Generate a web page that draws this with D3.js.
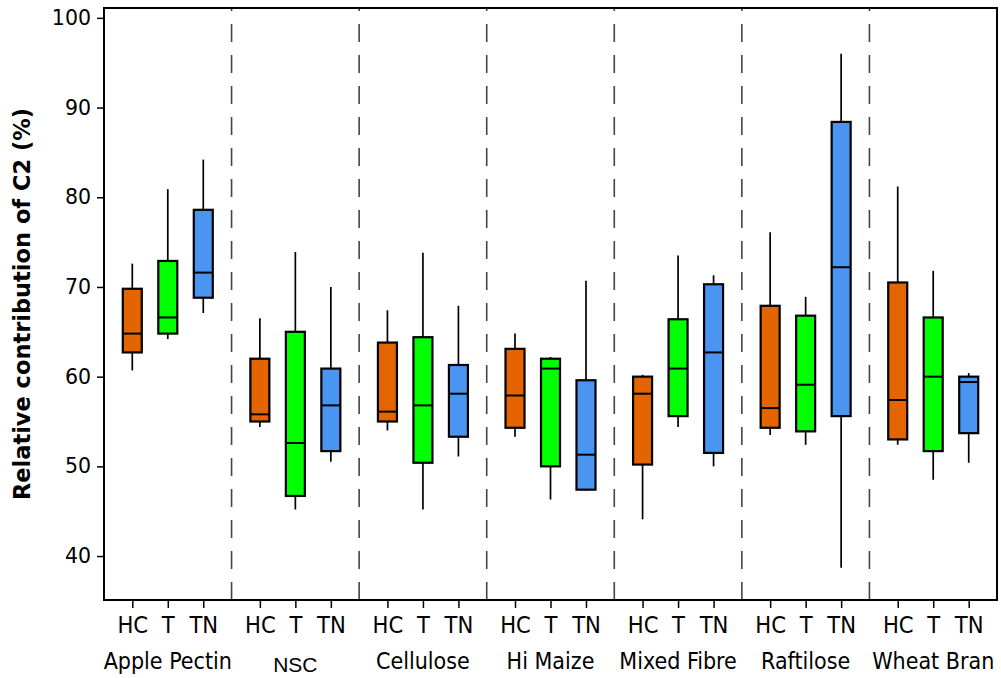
<!DOCTYPE html>
<html>
<head>
<meta charset="utf-8">
<script src="https://cdn.jsdelivr.net/npm/d3@7"></script>
<style>
  html, body { margin: 0; padding: 0; background: #fff; }
  svg { display: block; }
</style>
</head>
<body>
<svg id="chart" width="1001" height="678"></svg>
<script>
// Substrates (outer groups) and treatments (inner categories)
const groups = ["Apple Pectin", "NSC", "Cellulose", "Hi Maize", "Mixed Fibre", "Raftilose", "Wheat Bran"];
const treatments = ["HC", "T", "TN"];
const yTicks = [40, 50, 60, 70, 80, 90, 100];

// Box-plot statistics, one value per group × treatment (HC, T, TN in each group)
const whiskerLow = [60.7, 64.2, 67.1,  54.4, 45.2, 50.5,  54.0, 45.2, 51.1,  53.3, 46.3, 47.3,  44.1, 54.4, 50.0,  53.5, 52.4, 38.7,  52.4, 48.5, 50.4];
const q1         = [62.7, 64.8, 68.8,  55.0, 46.7, 51.7,  55.0, 50.4, 53.3,  54.3, 50.0, 47.4,  50.2, 55.6, 51.5,  54.3, 53.9, 55.6,  53.0, 51.7, 53.7];
const median     = [64.8, 66.6, 71.6,  55.8, 52.6, 56.8,  56.1, 56.8, 58.1,  57.9, 60.9, 51.3,  58.1, 60.9, 62.7,  56.5, 59.1, 72.2,  57.4, 60.0, 59.4];
const q3         = [69.8, 72.9, 78.6,  62.0, 65.0, 60.9,  63.8, 64.4, 61.3,  63.1, 62.0, 59.6,  60.0, 66.4, 70.3,  67.9, 66.8, 88.4,  70.5, 66.6, 60.0];
const whiskerHigh= [72.6, 80.9, 84.2,  66.5, 73.9, 70.0,  67.4, 73.8, 67.9,  64.8, 62.2, 70.7,  60.2, 73.5, 71.3,  76.1, 68.9, 96.0,  81.2, 71.8, 60.4];

const fills = { HC: "#E46400", T: "#00FF00", TN: "#4A95F2" };

const svg = d3.select("#chart");
const plotL = 104, plotR = 997, plotT = 8, plotB = 600;

const xGroup = d3.scaleBand().domain(groups).range([plotL, plotR]).padding(0);
const xTreat = d3.scalePoint().domain(treatments).range([0, xGroup.bandwidth()]).padding(0.797);
const y = d3.scaleLinear().domain([35.1, 101.1]).range([plotB, plotT]);

const boxes = [];
groups.forEach((g, gi) => treatments.forEach((t, ti) => {
  const i = gi * treatments.length + ti;
  boxes.push({ group: g, treat: t, lo: whiskerLow[i], q1: q1[i], med: median[i], q3: q3[i], hi: whiskerHigh[i] });
}));

// Dashed separators between substrate groups
svg.append("g").selectAll("line")
  .data(groups.slice(1))
  .join("line")
  .attr("x1", d => xGroup(d)).attr("x2", d => xGroup(d))
  .attr("y1", plotB).attr("y2", plotT)
  .attr("stroke", "#444").attr("stroke-width", 1.6)
  .attr("stroke-dasharray", "18,13");

// Boxes and whiskers
const boxW = 19;
const bx = d => xGroup(d.group) + xTreat(d.treat);
const gBox = svg.append("g");
gBox.selectAll("line.whisk")
  .data(boxes)
  .join("line")
  .attr("class", "whisk")
  .attr("x1", bx).attr("x2", bx)
  .attr("y1", d => y(d.lo)).attr("y2", d => y(d.hi))
  .attr("stroke", "#000").attr("stroke-width", 1.7);
gBox.selectAll("rect")
  .data(boxes)
  .join("rect")
  .attr("x", d => bx(d) - boxW / 2)
  .attr("width", boxW)
  .attr("y", d => y(d.q3))
  .attr("height", d => y(d.q1) - y(d.q3))
  .attr("fill", d => fills[d.treat])
  .attr("stroke", "#000").attr("stroke-width", 2.2);
gBox.selectAll("line.med")
  .data(boxes)
  .join("line")
  .attr("class", "med")
  .attr("x1", d => bx(d) - boxW / 2).attr("x2", d => bx(d) + boxW / 2)
  .attr("y1", d => y(d.med)).attr("y2", d => y(d.med))
  .attr("stroke", "#000").attr("stroke-width", 2);

// Frame
svg.append("rect")
  .attr("x", plotL).attr("y", plotT)
  .attr("width", plotR - plotL).attr("height", plotB - plotT)
  .attr("fill", "none").attr("stroke", "#000").attr("stroke-width", 2);

// Y axis
const yAxis = svg.append("g")
  .attr("transform", `translate(${plotL},0)`)
  .call(d3.axisLeft(y).tickValues(yTicks).tickSize(7).tickPadding(6).tickSizeOuter(0));
yAxis.select(".domain").remove();
yAxis.selectAll(".tick line").attr("stroke", "#000").attr("stroke-width", 1.5);
yAxis.selectAll(".tick text")
  .attr("font-family", "'DejaVu Sans', sans-serif")
  .attr("font-size", 20.5).attr("fill", "#000");

// Treatment ticks and labels under each group
const gx = svg.append("g");
groups.forEach(g => {
  const ax = gx.append("g")
    .attr("transform", `translate(${xGroup(g)},${plotB})`)
    .call(d3.axisBottom(xTreat).tickSize(8).tickPadding(8).tickSizeOuter(0));
  ax.select(".domain").remove();
  ax.selectAll(".tick line").attr("stroke", "#000").attr("stroke-width", 1.5);
  ax.selectAll(".tick text")
    .attr("font-family", "'DejaVu Sans Condensed', 'DejaVu Sans', sans-serif")
    .attr("font-size", 23.5).attr("fill", "#000");
});

// Group names
svg.append("g").selectAll("text")
  .data(groups)
  .join("text")
  .attr("x", d => xGroup(d) + xGroup.bandwidth() / 2)
  .attr("y", d => d === "NSC" ? 672 : 669)
  .attr("text-anchor", "middle")
  .attr("font-family", d => d === "NSC" ? "'Liberation Sans', Arial, sans-serif" : "'DejaVu Sans Condensed', 'DejaVu Sans', sans-serif")
  .attr("font-size", d => d === "NSC" ? 21 : 23)
  .attr("fill", "#000")
  .text(d => d);

// Y axis title
svg.append("text")
  .attr("transform", `translate(30,${(plotT + plotB) / 2}) rotate(-90)`)
  .attr("text-anchor", "middle")
  .attr("font-family", "'DejaVu Sans', sans-serif")
  .attr("font-weight", "bold")
  .attr("font-size", 22.5)
  .attr("fill", "#000")
  .text("Relative contribution of C2 (%)");
</script>
</body>
</html>
